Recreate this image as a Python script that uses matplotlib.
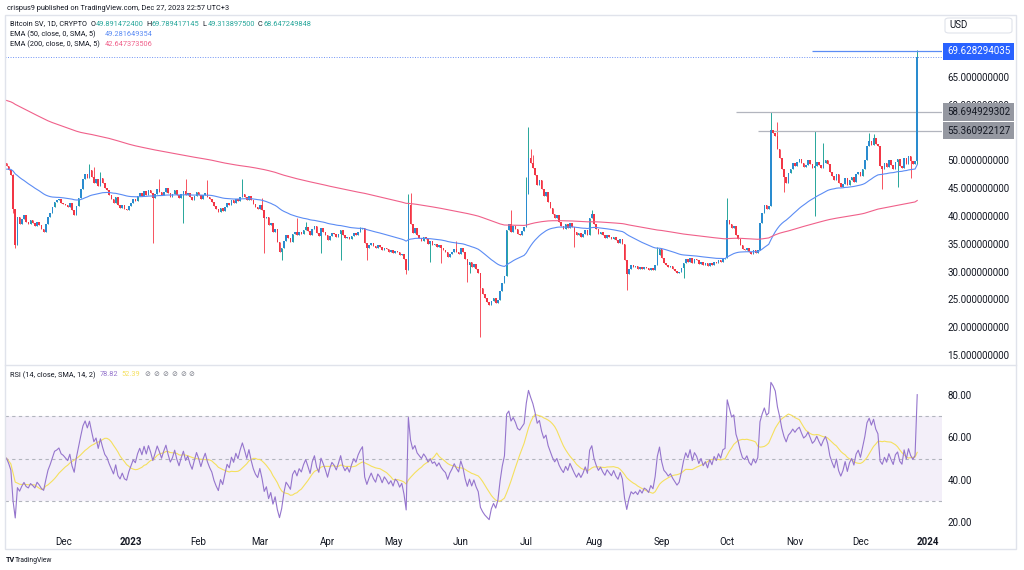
import matplotlib
matplotlib.use("Agg")
import matplotlib.pyplot as plt
import matplotlib.dates as mdates
import matplotlib.transforms as mtransforms
from matplotlib.patches import Rectangle, FancyBboxPatch
from matplotlib.lines import Line2D
import numpy as np
import pandas as pd

# ---------------- data ----------------
closes = [
    49.0, 48.3, 47.4,
    41.2, 34.8,
    39.8, 38.6, 39.5, 40.2, 39.0, 38.6, 39.3, 38.8, 38.2, 39.0, 38.4, 37.6, 37.2,
    38.5, 39.8, 40.6, 41.6, 42.6,
    42.8, 43.1, 42.4, 42.2, 41.9, 41.6, 42.3, 41.0, 40.2, 41.8, 43.2,
    44.8, 46.6, 47.6, 46.9, 48.2, 47.1, 46.0,
    46.6, 45.4, 46.9, 45.9, 45.0, 44.6, 43.8, 43.1, 42.4, 43.4,
    41.9, 41.4, 42.0, 41.2, 41.0, 41.8, 42.4, 43.0, 42.7, 43.6,
    44.2, 43.6, 44.5, 43.8, 44.7, 44.1, 43.3, 44.0, 44.8, 44.3,
    43.7, 44.4, 45.0, 44.2, 43.5, 43.9, 44.6, 43.8, 43.2, 43.9,
    44.5, 43.7, 44.1, 43.4, 42.9, 43.6, 44.3, 43.8, 43.1, 43.7,
    44.2, 43.5, 43.0, 42.6, 41.8, 41.2, 40.7, 41.4, 40.9, 41.6,
    42.3, 42.0, 42.8, 42.4, 43.1, 42.7, 43.4,
    44.0, 43.5, 42.9, 43.6, 42.8, 42.1, 41.6, 41.3, 41.9, 41.0,
    39.6, 39.9, 38.4, 38.8, 37.1, 37.6,
    35.4, 33.5, 34.2,
    35.5, 36.5, 36.0, 35.4, 36.8, 37.2, 36.5,
    37.2, 36.8, 37.5, 38.0, 37.3, 36.5, 37.6, 38.2, 37.0, 36.4,
    37.8, 37.2, 36.5, 35.6, 36.4, 37.0, 36.7, 36.2, 36.8, 37.5,
    36.5, 36.0, 36.3, 35.8, 36.4, 36.9, 36.6, 37.2, 37.6, 37.9,
    35.2, 34.3,
    34.8, 35.2, 34.6, 34.2, 34.8, 34.5, 33.9, 34.3, 34.0, 33.6,
    33.8, 33.3, 33.7, 33.5, 33.0, 33.2,
    32.2, 30.2, 42.0, 38.6,
    37.0, 37.8, 36.5, 36.0, 35.5, 36.3, 35.8, 35.0, 35.5,
    34.8, 35.0, 34.4, 34.8, 34.2, 33.8, 33.5, 32.6, 33.2,
    33.6, 34.1, 33.6, 33.2, 34.2, 33.5,
    32.2, 31.2, 31.8, 30.9, 31.4, 30.5, 29.8,
    27.0, 26.0, 25.2,
    24.6, 24.0, 24.8, 25.2, 24.3, 24.9,
    26.5, 28.0, 29.2,
    37.5, 38.5, 37.2, 38.2, 37.6, 36.8, 36.6, 37.3, 38.0,
    44.0, 50.5, 49.5,
    48.6, 47.3, 45.6, 46.5, 44.8, 43.6, 44.4, 42.6,
    41.5, 40.4, 39.6, 40.2,
    39.0, 38.2, 37.6, 38.5, 37.8, 38.8, 38.0, 37.2, 36.5, 37.0, 36.3, 36.8, 37.5, 36.6,
    39.6, 40.3, 38.6,
    37.6, 36.8, 37.2, 36.5, 36.0, 36.6, 36.2, 35.8, 36.3, 35.6, 35.2, 35.8, 35.0,
    32.0, 29.5, 30.5,
    31.2, 30.8, 31.0, 30.5, 30.9, 30.4, 30.8, 30.6, 30.2, 30.7, 30.3,
    31.2, 33.0, 34.0, 32.5, 31.5, 31.2, 30.8, 31.0, 30.5, 30.1, 29.7,
    29.9, 30.6, 31.5, 32.2, 31.8, 32.5, 31.6, 32.3, 32.0, 31.4, 31.8,
    31.2, 31.5, 31.0, 31.6, 31.2, 31.8, 31.5, 32.0, 31.7, 32.3, 32.4,
    39.2,
    38.5, 37.8, 38.2, 36.5, 35.8,
    34.8, 34.0, 33.8, 34.2, 33.5, 33.2, 33.8, 33.4, 33.9,
    38.8, 40.5, 42.0, 41.3, 41.8,
    55.5,
    55.0, 54.3, 52.0, 50.5, 48.5, 47.0, 46.0, 47.8, 48.5, 49.5,
    49.0, 49.8, 50.3, 49.5, 48.8, 49.2, 50.0, 49.3, 48.6, 49.0,
    49.8, 49.2, 48.7, 49.5, 50.1, 49.4,
    48.0, 47.2, 46.5, 47.5, 46.0, 45.2, 45.8, 46.8, 45.5,
    46.5, 47.0, 46.2, 47.5, 48.0, 47.2, 48.5,
    50.0, 52.5, 53.5, 52.8, 54.0, 53.0, 52.5,
    49.0, 48.5,
    49.5, 48.8, 50.0, 49.2, 48.5, 49.8, 50.2, 49.0, 48.6, 50.5, 49.3, 50.8, 49.9, 49.4, 49.9,
    68.647249848,
]
last_day = "2023-12-27"
first_open = 49.6
last_open = 49.891472400

# notable wick extremes: candle index -> price
wick_highs = {0: 49.6, 3: 47.6, 38: 49.3, 40: 48.9, 43: 48.0, 70: 46.7, 82: 46.7,
              92: 46.5, 108: 46.7, 117: 43.2, 133: 39.6, 137: 39.0, 162: 38.0,
              184: 44.0, 185: 44.2, 206: 35.5, 231: 41.0, 238: 47.0, 239: 56.0,
              240: 52.0, 241: 51.0, 268: 41.0, 298: 34.5, 330: 43.2, 350: 58.7,
              353: 56.9, 370: 55.3, 374: 53.1, 395: 54.9, 397: 54.7,
              417: 69.789417145}
wick_lows = {3: 40.5, 4: 34.2, 67: 35.1, 81: 38.7, 118: 33.3, 126: 32.0,
             144: 33.3, 153: 32.0, 165: 32.0, 183: 29.6, 194: 31.7, 199: 31.5,
             211: 28.2, 212: 29.7, 217: 18.3, 260: 34.4, 284: 26.7, 310: 28.8,
             356: 44.3, 370: 40.0, 401: 44.8, 408: 45.2, 414: 46.8,
             417: 49.313897500}

ema50_seed = 48.4
ema200_seed = 60.9
rsi_seed_gain = 0.55
rsi_seed_loss = 0.50

# legend readouts as printed on the reference
ohlc_text = ["49.891472400", "69.789417145", "49.313897500", "68.647249848"]
ema50_text = "49.281649354"
ema200_text = "42.647373506"
rsi_text = "78.82"
rsi_ma_text = "52.39"

current_price = 69.628294035
level_high = 58.694929302
level_mid = 55.360922127
level_start = {"cur": "2023-11-09", "high": "2023-10-05", "mid": "2023-10-15"}

price_ticks = [15, 20, 25, 30, 35, 40, 45, 50, 55, 60, 65]
rsi_ticks = [20, 40, 60, 80]
month_dates = ["2022-12-01", "2023-01-01", "2023-02-01", "2023-03-01", "2023-04-01",
               "2023-05-01", "2023-06-01", "2023-07-01", "2023-08-01", "2023-09-01",
               "2023-10-01", "2023-11-01", "2023-12-01", "2024-01-01"]
month_labels = ["Dec", "2023", "Feb", "Mar", "Apr", "May", "Jun", "Jul", "Aug",
                "Sep", "Oct", "Nov", "Dec", "2024"]
bold_labels = {"2023", "2024"}

# ---------------- derived series ----------------
n = len(closes)
dates = pd.date_range(end=last_day, periods=n, freq="D")
c = np.array(closes, dtype=float)
o = np.concatenate([[first_open], c[:-1]])
o[-1] = last_open
h = np.maximum(o, c)
l = np.minimum(o, c)
for k, v in wick_highs.items():
    h[k] = max(h[k], v)
for k, v in wick_lows.items():
    l[k] = min(l[k], v)

def ema(values, seed, length):
    a = 2.0 / (length + 1)
    out = []
    e = seed
    for v in values:
        e = e + a * (v - e)
        out.append(e)
    return np.array(out)

ema50 = ema(c, ema50_seed, 50)
ema200 = ema(c, ema200_seed, 200)

prev = np.concatenate([[first_open], c[:-1]])
delta = c - prev
ag, al = rsi_seed_gain, rsi_seed_loss
rsi = []
for d in delta:
    ag = (ag * 13 + max(d, 0)) / 14
    al = (al * 13 + max(-d, 0)) / 14
    rsi.append(100 * ag / (ag + al))
rsi = np.array(rsi)
rsi_ma = pd.Series(rsi).rolling(14, min_periods=1).mean().values

# ---------------- styling ----------------
plt.rcParams["font.family"] = ["Roboto", "DejaVu Sans"]
TXT = "#131722"
UP_BODY = "#2a8ccf"
UP_WICK = "#26a69a"
DN_BODY = "#f23645"
DN_WICK = "#f7525f"
BORDER = "#e0e3eb"
EMA50_C = "#5b8cf4"
EMA200_C = "#f0608a"
RSI_C = "#9575cd"
RSI_MA_C = "#f5e05e"
AX_FS = 7.05

W, H = 1024, 570
fig = plt.figure(figsize=(W / 100, H / 100), dpi=100)
fig.patch.set_facecolor("white")

def fx(x):
    return x / W

def fy(y):
    return 1 - y / H

ax = fig.add_axes([fx(5), fy(363), 937 / W, (363 - 15) / H])
rax = fig.add_axes([fx(5), fy(530), 937 / W, (530 - 366) / H])

xn = mdates.date2num(dates)
px_per_day = 2.184
x_left = xn[0] - 1.5 / px_per_day
x_right = xn[0] + (942 - 6.5) / px_per_day

for a in (ax, rax):
    a.set_xlim(x_left, x_right)
    for s in a.spines.values():
        s.set_visible(False)
    a.yaxis.tick_right()
    a.tick_params(axis="y", length=0, pad=3.9, labelsize=AX_FS, labelcolor=TXT)
    a.set_facecolor("none")

ax.set_ylim(13.56, 76.15)
ax.set_yticks(price_ticks)
ax.set_yticklabels([f"{v:.9f}" for v in price_ticks])
ax.set_xticks([])

# candles
up = c >= o
wcol = np.where(up, UP_WICK, DN_WICK)
bcol = np.where(up, UP_BODY, DN_BODY)
ax.vlines(xn, l, h, colors=wcol, linewidth=0.7, zorder=2)
body_h = np.maximum(np.abs(c - o), 0.08)
ax.bar(xn, body_h, bottom=np.minimum(o, c), width=0.72, color=bcol,
       linewidth=0, zorder=3)

ax.plot(xn, ema50, color=EMA50_C, lw=0.8, zorder=4)
ax.plot(xn, ema200, color=EMA200_C, lw=0.8, zorder=4)

# price line and levels
ax.axhline(c[-1], color="#6f93f5", lw=0.7, ls=(0, (1, 1.6)), zorder=1)
for key, val, col in (("cur", current_price, EMA50_C),
                      ("high", level_high, "#b2b5be"),
                      ("mid", level_mid, "#b2b5be")):
    ax.hlines(val, mdates.date2num(pd.Timestamp(level_start[key])), x_right,
              colors=col, lw=0.9, zorder=2)

trans = mtransforms.blended_transform_factory(ax.transAxes, ax.transData)
for val, bg, fg in ((current_price, "#2962ff", "white"),
                    (level_high, "#9598a1", TXT),
                    (level_mid, "#9598a1", TXT)):
    ax.text(1 + 5 / 937, val, f"{val:.9f}", transform=trans, ha="left",
            va="center", fontsize=AX_FS, color=fg, clip_on=False, zorder=10,
            bbox=dict(boxstyle="square,pad=0.38", fc=bg, ec="none"))

# RSI pane
rax.set_ylim(16.4, 93.5)
rax.axhspan(30, 70, color="#7e57c2", alpha=0.09, lw=0, zorder=0)
for lv in (70, 50, 30):
    rax.axhline(lv, color="#b2b5be", lw=0.8, ls=(0, (3, 3)), zorder=1)
rax.plot(xn, rsi, color=RSI_C, lw=0.8, zorder=3)
rax.plot(xn, rsi_ma, color=RSI_MA_C, lw=0.8, zorder=2)
rax.set_yticks(rsi_ticks)
rax.set_yticklabels([f"{v:.2f}" for v in rsi_ticks])
rax.set_xticks(mdates.date2num(pd.to_datetime(month_dates)))
rax.set_xticklabels(month_labels)
rax.tick_params(axis="x", length=0, pad=5, labelsize=AX_FS, labelcolor=TXT)
for t in rax.get_xticklabels():
    if t.get_text() in bold_labels:
        t.set_fontweight("bold")

# frame
fig.add_artist(Rectangle((fx(5), fy(549)), (1016 - 5) / W, (549 - 15) / H,
                         transform=fig.transFigure, fill=False, ec=BORDER, lw=1))
fig.add_artist(Line2D([fx(5), fx(1016)], [fy(364.5), fy(364.5)],
                      transform=fig.transFigure, color=BORDER, lw=1))

# USD box
fig.add_artist(FancyBboxPatch((fx(945), fy(33)), 67 / W, 15 / H,
                              boxstyle="round,pad=0,rounding_size=0.004",
                              transform=fig.transFigure, fc="white", ec=BORDER, lw=0.8))
fig.text(fx(949), fy(25.5), "USD", fontsize=AX_FS, color=TXT, va="center")

# header texts (pieces placed at the reference's x positions)
LG = 5.3
def put(x_px, y_px, s, col, size=LG):
    fig.text(fx(x_px), fy(y_px), s, color=col, fontsize=size, va="center", ha="left")

put(7, 8, "crispus9 published on TradingView.com, Dec 27, 2023 22:57 UTC+3", TXT)
GRN = "#26a69a"
put(10, 24, "Bitcoin SV, 1D, CRYPTO", TXT)
for xp, letter, val in zip((90.5, 146.5, 202.5, 258.0), "OHLC", ohlc_text):
    put(xp, 24, letter, TXT)
    put(xp + 5.0, 24, val, GRN)
put(10, 34, "EMA (50, close, 0, SMA, 5)", TXT)
put(105, 34, ema50_text, EMA50_C)
put(10, 44, "EMA (200, close, 0, SMA, 5)", TXT)
put(105, 44, ema200_text, EMA200_C)
put(10, 375, "RSI (14, close, SMA, 14, 2)", TXT)
put(99.3, 375, rsi_text, RSI_C)
put(121.7, 375, rsi_ma_text, RSI_MA_C)
for xp in (144.3, 153.2, 162.1, 171.0, 179.9, 188.8):
    put(xp, 375, "⊘", "#787b86", 5.0)

# logo
fig.text(fx(6), fy(560), "TV", fontsize=5.2, fontweight="bold", color=TXT, va="center")
fig.text(fx(15), fy(560), "TradingView", fontsize=4.9, color=TXT, va="center")

fig.savefig("out.png", dpi=100, facecolor="white")
